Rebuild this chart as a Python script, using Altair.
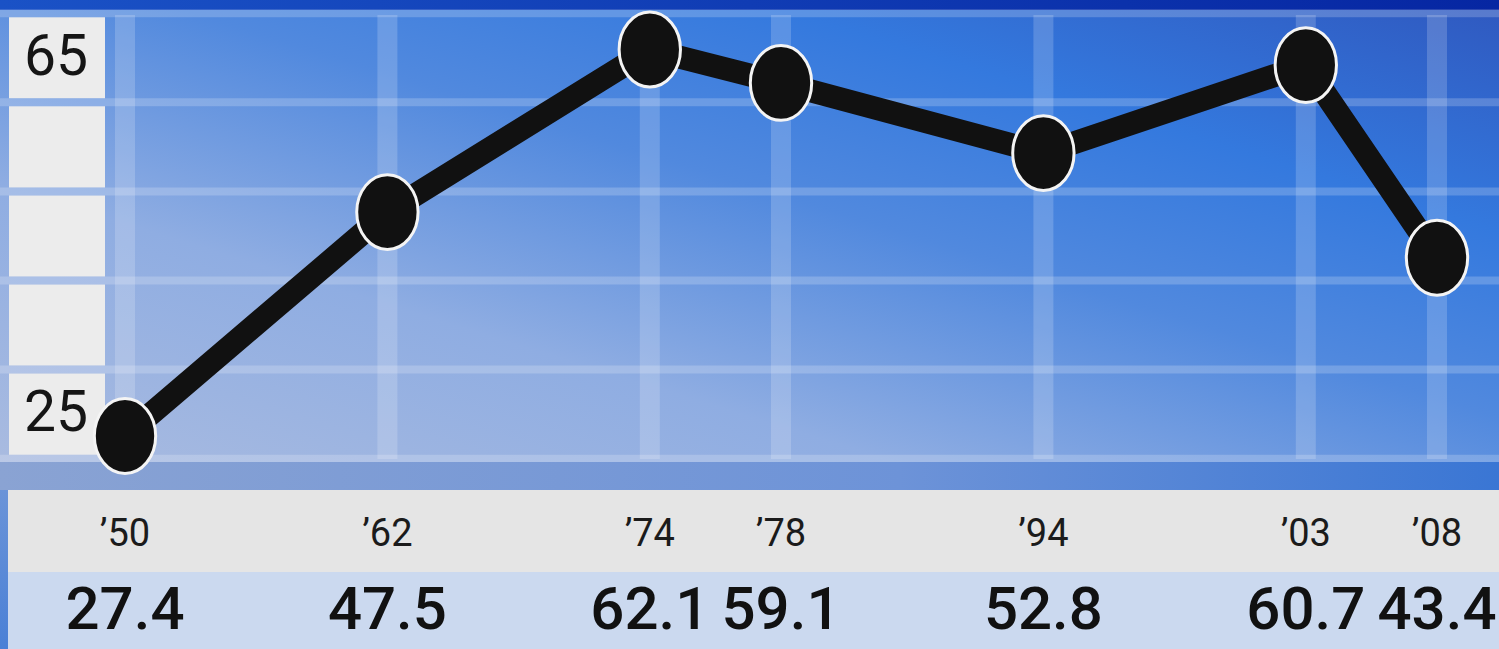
import altair as alt
import pandas as pd

# ---- data ----
years = ["\u201950", "\u201962", "\u201974", "\u201978", "\u201994", "\u201903", "\u201908"]
values = [27.4, 47.5, 62.1, 59.1, 52.8, 60.7, 43.4]
grid_values = [25, 33, 41, 49, 57, 65]
axis_label_values = [65, 25]

W, H = 1499, 649
FONT = "Roboto, Open Sans, sans-serif"

df = pd.DataFrame({"year": years, "value": values})
df["label"] = [f"{v:.1f}" for v in values]

# x slots: the graphic spaces the years in unequal columns (gaps between some years)
x_domain = [years[0], "gap1", years[1], "gap2", years[2], years[3], "gap3",
            years[4], "gap4", years[5], years[6]]
x_scale = alt.Scale(type="point", domain=x_domain, range=[125, 1437], padding=0)
y_scale = alt.Scale(domain=[25, 65], range=[462.7, 17.2], zero=False, nice=False)

X = alt.X("year:N", scale=x_scale, axis=None)

one = pd.DataFrame({"k": [0]})


def grad(stops, x1=0, y1=0, x2=1, y2=0):
    return alt.Gradient(
        gradient="linear",
        stops=[alt.GradientStop(color=c, offset=o) for o, c in stops],
        x1=x1, y1=y1, x2=x2, y2=y2,
    )


# ---- background panels ----
plot_bg = alt.Chart(one).mark_rect(
    fill=grad([(0, "#a9bbe0"), (0.3, "#8fade2"), (0.55, "#5189de"),
               (0.75, "#3479de"), (1, "#2f58bf")], x1=0, y1=1, x2=1, y2=0)
).encode(x=alt.value(0), x2=alt.value(W), y=alt.value(0), y2=alt.value(463))

top_bar = alt.Chart(one).mark_rect(
    fill=grad([(0, "#1a52c6"), (1, "#0626a2")])
).encode(x=alt.value(0), x2=alt.value(W), y=alt.value(0), y2=alt.value(10))

strip = alt.Chart(one).mark_rect(
    fill=grad([(0, "#8aa3d3"), (0.6, "#6d93d8"), (1, "#3a76d4")])
).encode(x=alt.value(0), x2=alt.value(W), y=alt.value(462), y2=alt.value(490))

year_band = alt.Chart(one).mark_rect(fill="#e5e5e5").encode(
    x=alt.value(8), x2=alt.value(W), y=alt.value(490), y2=alt.value(572))
value_band = alt.Chart(one).mark_rect(fill="#cbd9ef").encode(
    x=alt.value(8), x2=alt.value(W), y=alt.value(572), y2=alt.value(H))
left_edge = alt.Chart(one).mark_rect(
    fill=grad([(0, "#6b94d8"), (1, "#4a80d6")], x1=0, y1=0, x2=0, y2=1)
).encode(x=alt.value(0), x2=alt.value(8), y=alt.value(490), y2=alt.value(H))

# ---- grid ----
grid_df = pd.DataFrame({"g": grid_values})
hgrid = alt.Chart(grid_df).mark_rule(
    color="white", opacity=0.2, strokeWidth=8, yOffset=-4
).encode(y=alt.Y("g:Q", scale=y_scale, axis=None), x=alt.value(0), x2=alt.value(W))

vgrid = alt.Chart(df).mark_rule(
    color="white", opacity=0.18, strokeWidth=20
).encode(x=X, y=alt.value(15), y2=alt.value(459))

# ---- left label boxes ----
bands = pd.DataFrame({"lo": grid_values[:-1], "hi": grid_values[1:]})
boxes = alt.Chart(bands).mark_rect(
    fill="#ececec", yOffset=0, y2Offset=-8
).encode(
    x=alt.value(9), x2=alt.value(105),
    y=alt.Y("hi:Q", scale=y_scale, axis=None), y2="lo:Q",
)

step = grid_values[1] - grid_values[0]
lab_df = pd.DataFrame({"v": axis_label_values})
lab_df["pos"] = [v - step / 2 if v == max(grid_values) else v + step / 2
                 for v in axis_label_values]
ylabels = alt.Chart(lab_df).mark_text(
    font=FONT, fontSize=57, color="#151515", baseline="middle", align="center", dy=-4
).encode(
    x=alt.value(56),
    y=alt.Y("pos:Q", scale=y_scale, axis=None),
    text=alt.Text("v:Q", format="d"),
)

# ---- data line + points ----
line = alt.Chart(df).mark_line(color="#111111", strokeWidth=23).encode(
    x=alt.X("year:N", scale=x_scale, axis=None, sort=x_domain),
    y=alt.Y("value:Q", scale=y_scale, axis=None),
)

a = 0.82
k = 0.5523
ellipse = (f"M{a},0 C{a},{k} {k*a:.4f},1 0,1 C{-k*a:.4f},1 {-a},{k} {-a},0 "
           f"C{-a},{-k} {-k*a:.4f},-1 0,-1 C{k*a:.4f},-1 {a},{-k} {a},0 Z")
points = alt.Chart(df).mark_point(
    shape=ellipse, size=5600, filled=True, fill="#111111",
    stroke="#f4f4f4", strokeWidth=3, opacity=1
).encode(x=X, y=alt.Y("value:Q", scale=y_scale, axis=None))

# ---- bottom labels ----
year_text = alt.Chart(df).mark_text(
    font=FONT, fontSize=38, color="#1b1b1b", baseline="middle", align="center"
).encode(x=X, y=alt.value(535), text="year:N")

value_text = alt.Chart(df).mark_text(
    font=FONT, fontSize=60, color="#111111", baseline="middle", align="center",
    fontWeight=500
).encode(x=X, y=alt.value(611), text="label:N")

chart = alt.layer(
    plot_bg, top_bar, hgrid, vgrid, boxes, ylabels, strip,
    year_band, value_band, left_edge,
    line, points, year_text, value_text,
).resolve_scale(x="shared", y="shared").properties(
    width=W, height=H,
    autosize=alt.AutoSizeParams(type="none"),
    padding=0,
    background="#e5e5e5",
).configure_view(stroke=None)

chart.save("out.html", embed_options={"renderer": "svg", "actions": False})
